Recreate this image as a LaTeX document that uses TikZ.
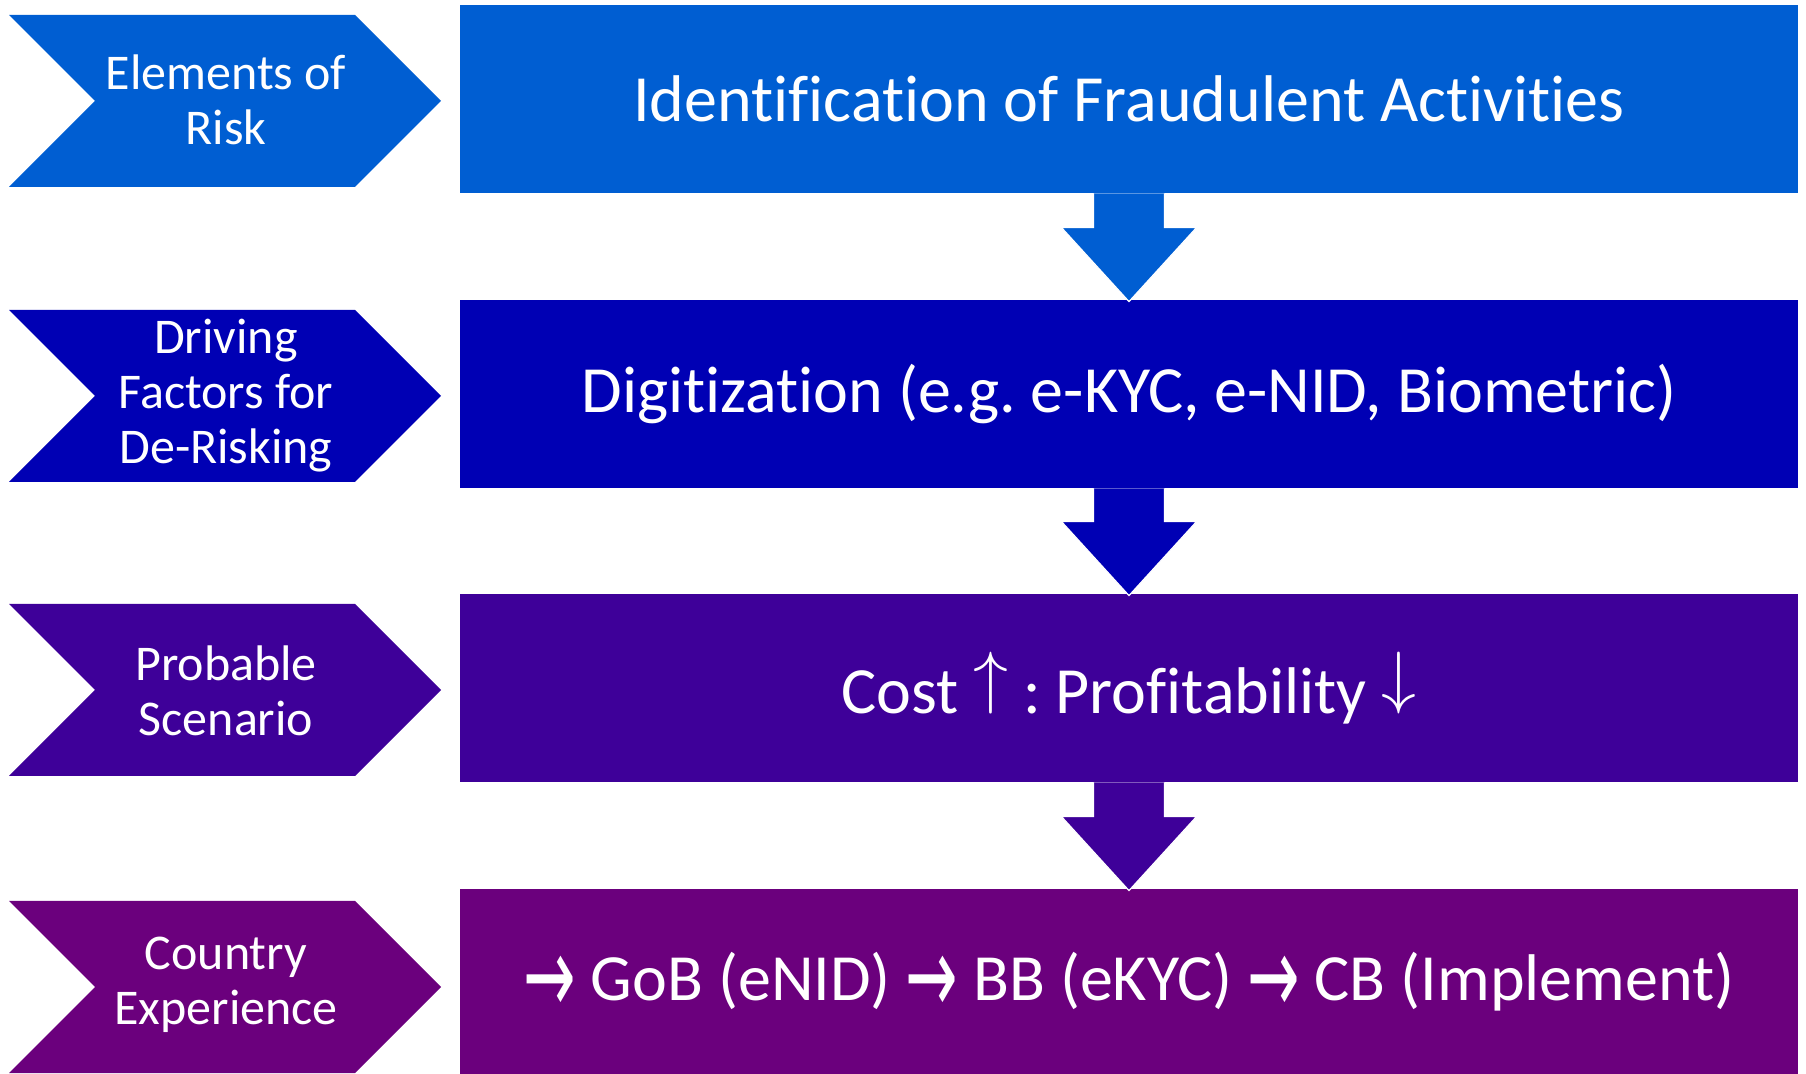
\documentclass[tikz,border=0pt]{standalone}
\usepackage{fontspec}
\setmainfont[Ligatures=NoCommon]{Carlito}
\newfontfamily\arrowfont{DejaVu Sans}
\usetikzlibrary{calc}

\definecolor{rowblue}{HTML}{005ED2}
\definecolor{rownavy}{HTML}{0000B4}
\definecolor{rowindigo}{HTML}{3E0099}
\definecolor{rowpurple}{HTML}{6B007D}

\newcommand{\ra}{\raisebox{-6.8pt}{\scalebox{0.95}[1.65]{\arrowfont →}}}
\newcommand{\up}{\raisebox{\depth}{\resizebox*{!}{31pt}{$\uparrow$}}}
\newcommand{\down}{\raisebox{\depth}{\resizebox*{!}{31pt}{$\downarrow$}}}

\begin{document}
\frenchspacing
\begin{tikzpicture}[x=0.5pt, y=-0.5pt,
    mainbox/.style={rectangle, inner sep=0pt, minimum width=669pt,
      minimum height=94pt, text=white, font=\fontsize{33}{40}\selectfont},
    tagtext/.style={align=center, inner sep=0pt, text=white,
      font=\fontsize{25}{27.5}\selectfont},
    downarrow/.style={draw=white, line width=0.6pt}]

  % --- Parameter (Pixel) ---
  \def\tagleft{9}      % linke Kante der Pfeilformen
  \def\tagnotch{95}    % Kerbe links
  \def\tagshoulder{355}
  \def\tagtip{441}
  \def\taghalf{86}     % halbe Hoehe der Pfeilformen
  \def\stemhalf{35.5}
  \def\headhalf{67.5}
  \def\headlen{74}

  \useasboundingbox (0,0) rectangle (1806,1074);
  \clip (0,0) rectangle (1806,1074);

  % --- Kaesten rechts ---
  \node[mainbox, fill=rowblue]   (ident)   at (1129,99)  {Identification of Fraudulent Activities};
  \node[mainbox, fill=rownavy]   (digit)   at (1129,394) {Digitization (e.g. e-KYC, e-NID, Biometric)};
  \node[mainbox, fill=rowindigo] (cost)    at (1129,688) {Cost \up\ : Profitability \down};
  \node[mainbox, fill=rowpurple] (country) at (1129,983) {\ra\ GoB (eNID) \ra\ BB (eKYC) \ra\ CB (Implement)};

  % --- Pfeilformen links ---
  \fill[rowblue]   (\tagleft,101-\taghalf) -- (\tagshoulder,101-\taghalf) -- (\tagtip,101)
    -- (\tagshoulder,101+\taghalf) -- (\tagleft,101+\taghalf) -- (\tagnotch,101) -- cycle;
  \fill[rownavy]   (\tagleft,396-\taghalf) -- (\tagshoulder,396-\taghalf) -- (\tagtip,396)
    -- (\tagshoulder,396+\taghalf) -- (\tagleft,396+\taghalf) -- (\tagnotch,396) -- cycle;
  \fill[rowindigo] (\tagleft,690-\taghalf) -- (\tagshoulder,690-\taghalf) -- (\tagtip,690)
    -- (\tagshoulder,690+\taghalf) -- (\tagleft,690+\taghalf) -- (\tagnotch,690) -- cycle;
  \fill[rowpurple] (\tagleft,987-\taghalf) -- (\tagshoulder,987-\taghalf) -- (\tagtip,987)
    -- (\tagshoulder,987+\taghalf) -- (\tagleft,987+\taghalf) -- (\tagnotch,987) -- cycle;

  \node[tagtext] (risk)  at (226,100) {Elements of\\Risk};
  \node[tagtext] (drive) at (226,396) {Driving\\Factors for\\De-Risking};
  \node[tagtext] (scen)  at (226,691) {Probable\\Scenario};
  \node[tagtext] (exp)   at (226,985) {Country\\Experience};

  % --- Pfeile nach unten ---
  \filldraw[rowblue, downarrow]
    ($(ident.south)+(-\stemhalf,0)$) -- ($(digit.north)+(-\stemhalf,2-\headlen)$)
    -- ($(digit.north)+(-\headhalf,2-\headlen)$) -- ($(digit.north)+(0,2)$)
    -- ($(digit.north)+(\headhalf,2-\headlen)$) -- ($(digit.north)+(\stemhalf,2-\headlen)$)
    -- ($(ident.south)+(\stemhalf,0)$);
  \filldraw[rownavy, downarrow]
    ($(digit.south)+(-\stemhalf,0)$) -- ($(cost.north)+(-\stemhalf,2-\headlen)$)
    -- ($(cost.north)+(-\headhalf,2-\headlen)$) -- ($(cost.north)+(0,2)$)
    -- ($(cost.north)+(\headhalf,2-\headlen)$) -- ($(cost.north)+(\stemhalf,2-\headlen)$)
    -- ($(digit.south)+(\stemhalf,0)$);
  \filldraw[rowindigo, downarrow]
    ($(cost.south)+(-\stemhalf,0)$) -- ($(country.north)+(-\stemhalf,2-\headlen)$)
    -- ($(country.north)+(-\headhalf,2-\headlen)$) -- ($(country.north)+(0,2)$)
    -- ($(country.north)+(\headhalf,2-\headlen)$) -- ($(country.north)+(\stemhalf,2-\headlen)$)
    -- ($(cost.south)+(\stemhalf,0)$);

\end{tikzpicture}
\end{document}
